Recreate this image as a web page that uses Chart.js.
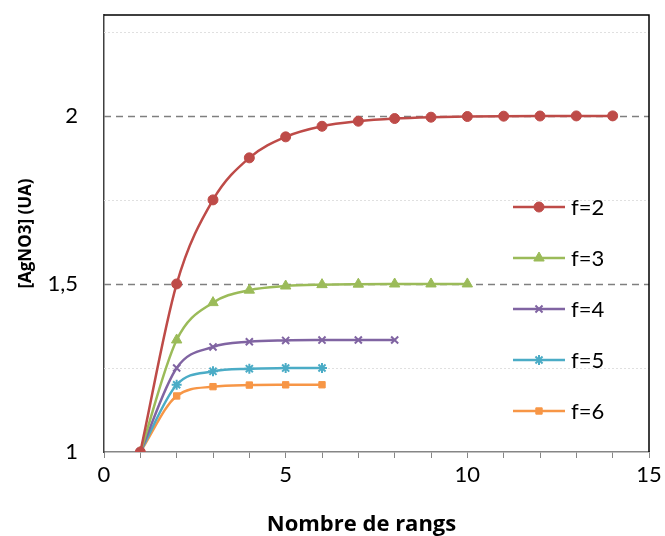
<!DOCTYPE html>
<html>
<head>
<meta charset="utf-8">
<script src="https://cdn.jsdelivr.net/npm/chart.js@4/dist/chart.umd.min.js"></script>
<style>
  html, body { margin: 0; padding: 0; background: #fff; }
  #wrap { width: 665px; height: 536px; }
</style>
</head>
<body>
<div id="wrap"><canvas id="chart" width="665" height="536"></canvas></div>
<script>
// rangs (x) and [AgNO3] values for each f
const rangs = [1, 2, 3, 4, 5, 6, 7, 8, 9, 10, 11, 12, 13, 14];
const f2 = [1, 1.5, 1.75, 1.875, 1.9375, 1.969, 1.984, 1.992, 1.996, 1.998, 1.999, 1.9995, 1.9998, 1.9999];
const f3 = [1, 1.3333, 1.4444, 1.4815, 1.4938, 1.4979, 1.4993, 1.4998, 1.4999, 1.5];
const f4 = [1, 1.25, 1.3125, 1.3281, 1.332, 1.333, 1.3332, 1.3333];
const f5 = [1, 1.2, 1.24, 1.248, 1.2496, 1.2499];
const f6 = [1, 1.1667, 1.1944, 1.1991, 1.1998, 1.2];
const seriesNames = ["f=2", "f=3", "f=4", "f=5", "f=6"];
const yTickValues = [1, 1.25, 1.5, 1.75, 2, 2.25];
const yLabels = {1: "1", 1.5: "1,5", 2: "2"};
const xTitle = "Nombre de rangs";

const colors = ["#BE4B48", "#9BBB59", "#8064A2", "#4BACC6", "#F79646"];
const markers = ["circle", "triangle", "crossRot", "star", "rect"];
const radii = [5, 6, 5, 5, 4.5];
const FONT = "Lato, 'Liberation Sans', sans-serif";
const TITLE_FONT = "'Open Sans', Lato, sans-serif";

function toPoints(vals) {
    return vals.map((v, i) => ({x: rangs[i], y: v}));
}

const datasets = [f2, f3, f4, f5, f6].map((vals, i) => ({
    label: seriesNames[i],
    data: toPoints(vals),
    borderColor: colors[i],
    backgroundColor: colors[i],
    borderWidth: 2.5,
    pointStyle: markers[i],
    pointRadius: radii[i],
    pointBorderWidth: (markers[i] === "crossRot" || markers[i] === "star") ? 2 : 1,
    pointBorderColor: colors[i],
    pointBackgroundColor: colors[i],
    cubicInterpolationMode: "monotone",
    tension: 0.4,
    fill: false
}));

// dashed major / dotted minor horizontal grid, frame, x title
const gridPlugin = {
    id: "gridLines",
    beforeDatasetsDraw(chart) {
        const {ctx, chartArea, scales} = chart;
        const y = scales.y;
        ctx.save();
        y.ticks.forEach(t => {
            if (t.value <= 1) return;
            const py = Math.round(y.getPixelForValue(t.value)) + 0.5;
            const major = Math.abs(t.value * 2 - Math.round(t.value * 2)) < 1e-6;
            ctx.beginPath();
            if (major) {
                ctx.strokeStyle = "#7F7F7F";
                ctx.lineWidth = 1.5;
                ctx.setLineDash([7, 5]);
            } else {
                ctx.strokeStyle = "#E0E0E0";
                ctx.lineWidth = 1;
                ctx.setLineDash([2, 2]);
            }
            ctx.moveTo(chartArea.left, py);
            ctx.lineTo(chartArea.right, py);
            ctx.stroke();
        });
        ctx.restore();
    },
    afterDraw(chart) {
        const {ctx, chartArea} = chart;
        ctx.save();
        ctx.strokeStyle = "#000";
        ctx.lineWidth = 1.5;
        ctx.beginPath();
        ctx.moveTo(chartArea.left, chartArea.top);
        ctx.lineTo(chartArea.right, chartArea.top);
        ctx.lineTo(chartArea.right, chartArea.bottom);
        ctx.stroke();
        // x axis title, sits a bit left of the plot centre like the original
        ctx.fillStyle = "#000";
        ctx.font = "bold 22px " + TITLE_FONT;
        ctx.textAlign = "center";
        ctx.textBaseline = "alphabetic";
        ctx.fillText(xTitle, (chartArea.left + chartArea.right) / 2 - 15, chartArea.bottom + 79);
        ctx.restore();
    }
};

// legend inside plot: line + marker + text
const legendPlugin = {
    id: "insideLegend",
    afterDatasetsDraw(chart) {
        const {ctx, chartArea} = chart;
        const x0 = chartArea.right - 136;
        const y0 = chartArea.top + 192;
        ctx.save();
        chart.data.datasets.forEach((ds, i) => {
            const yy = y0 + i * 51;
            ctx.strokeStyle = ds.borderColor;
            ctx.lineWidth = 2.5;
            ctx.setLineDash([]);
            ctx.beginPath();
            ctx.moveTo(x0, yy);
            ctx.lineTo(x0 + 52, yy);
            ctx.stroke();
            ctx.fillStyle = ds.backgroundColor;
            ctx.lineWidth = ds.pointBorderWidth;
            Chart.helpers.drawPoint(ctx, {pointStyle: ds.pointStyle, radius: ds.pointRadius, borderWidth: ds.pointBorderWidth}, x0 + 26, yy);
            ctx.fillStyle = "#000";
            ctx.font = "22px " + FONT;
            ctx.textBaseline = "middle";
            ctx.textAlign = "left";
            ctx.fillText(ds.label, x0 + 58, yy + 1);
        });
        ctx.restore();
    }
};

new Chart(document.getElementById("chart").getContext("2d"), {
    type: "line",
    data: {datasets: datasets},
    options: {
        responsive: false,
        animation: false,
        layout: {padding: {top: 15, right: 16, left: 0, bottom: 0}},
        plugins: {legend: {display: false}, tooltip: {enabled: false}},
        scales: {
            x: {
                type: "linear",
                min: 0,
                max: 15,
                afterFit: s => { s.height = 84; s.paddingLeft = 0; s.paddingRight = 0; },
                ticks: {
                    stepSize: 1,
                    autoSkip: false,
                    maxRotation: 0,
                    color: "#000",
                    font: {family: FONT, size: 22},
                    padding: 4,
                    callback: v => (v % 5 === 0 ? String(v) : "")
                },
                grid: {drawOnChartArea: false, drawTicks: true, tickLength: 6, color: "#868686", lineWidth: 1},
                border: {color: "#868686", width: 1.5},
                title: {display: false}
            },
            y: {
                type: "linear",
                min: 1,
                max: 2.3,
                afterFit: s => { s.width = 104; s.paddingTop = 0; s.paddingBottom = 0; },
                afterBuildTicks: s => {
                    s.ticks = yTickValues.map(v => ({value: v}));
                },
                ticks: {
                    color: "#000",
                    font: {family: FONT, size: 22},
                    padding: 18,
                    callback: v => (yLabels[v] !== undefined ? yLabels[v] : "")
                },
                grid: {display: false},
                border: {color: "#404040", width: 1.5},
                title: {
                    display: true,
                    text: "[AgNO3] (UA)",
                    color: "#000",
                    font: {family: TITLE_FONT, size: 17, weight: "bold"},
                    padding: {top: 16, bottom: 0}
                }
            }
        }
    },
    plugins: [gridPlugin, legendPlugin]
});
</script>
</body>
</html>
